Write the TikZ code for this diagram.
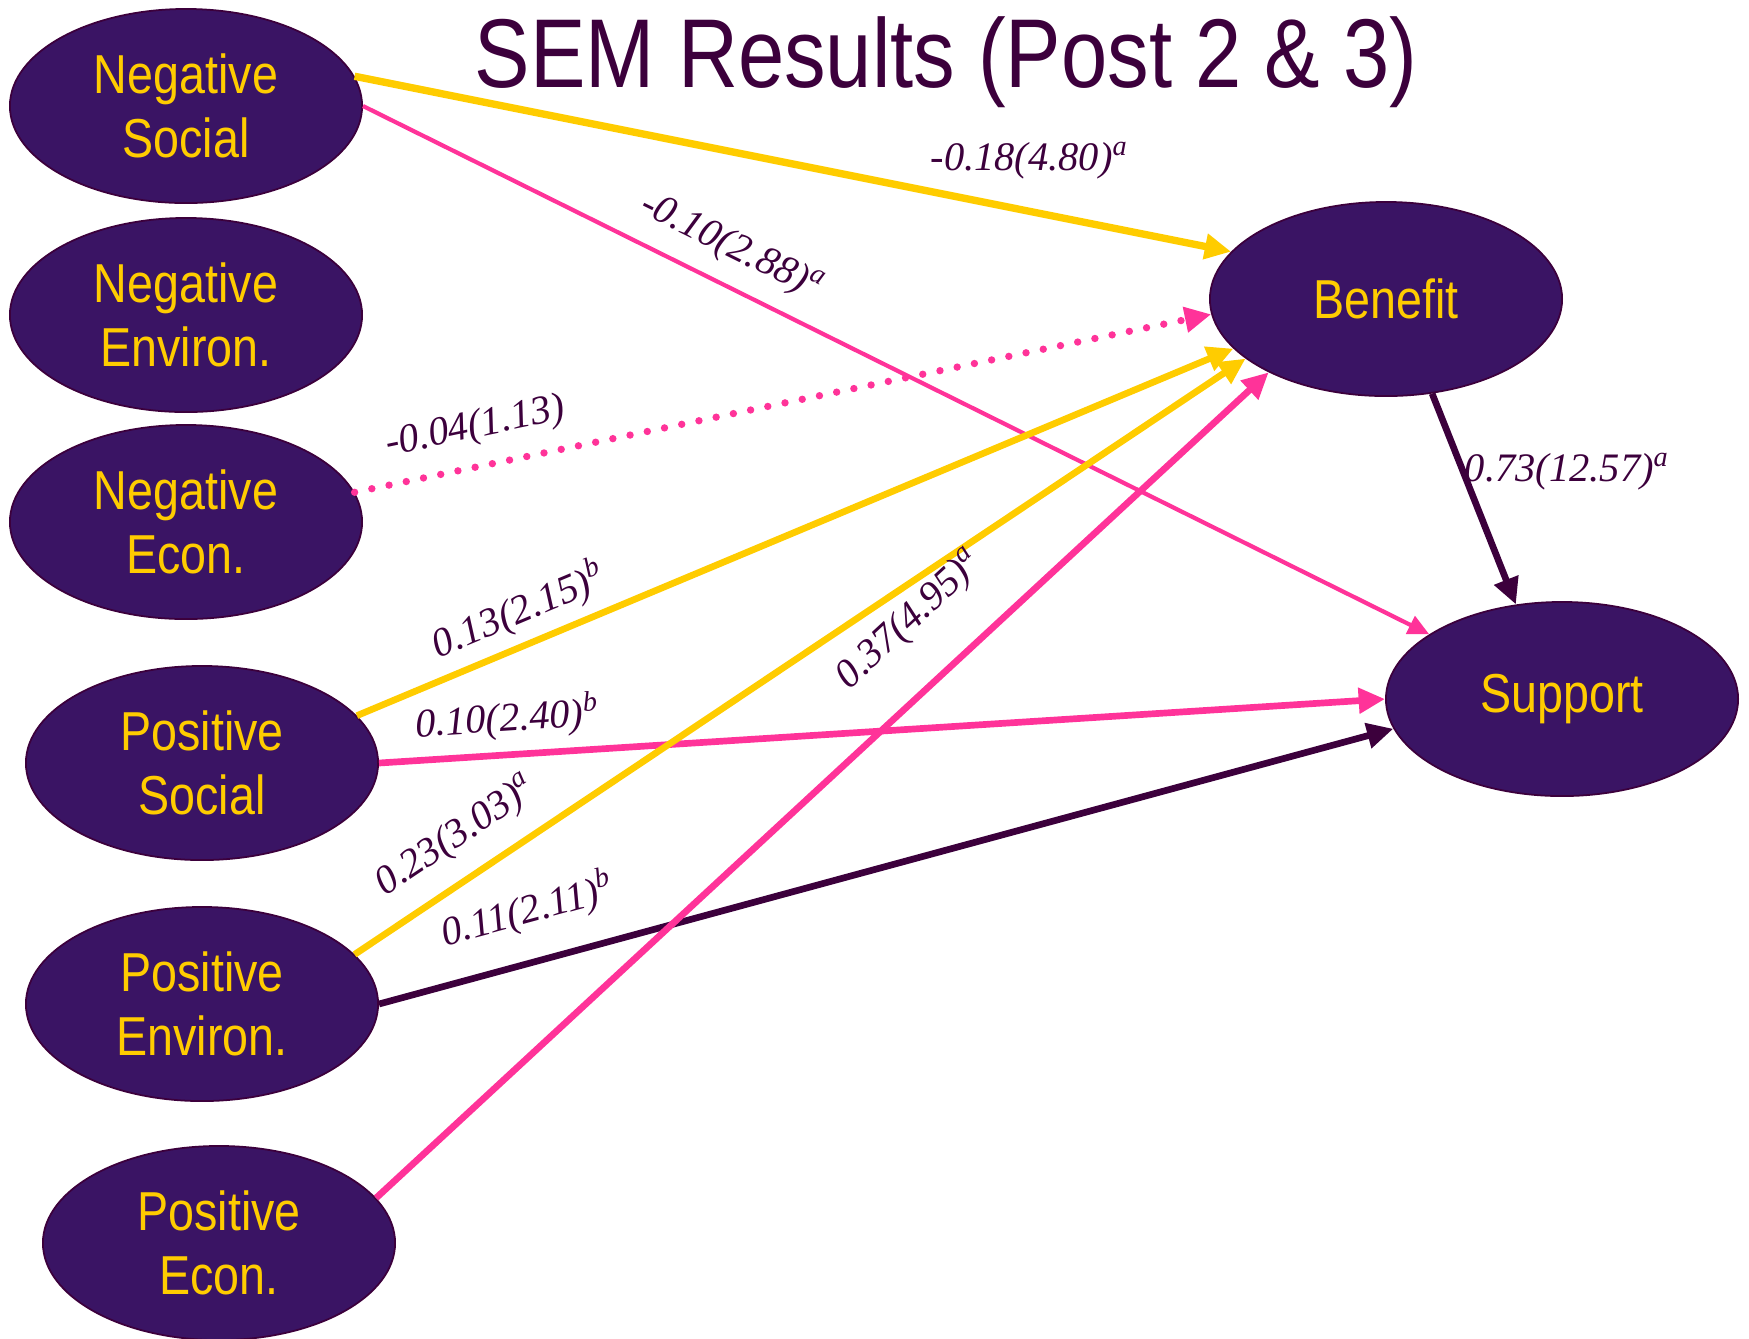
\documentclass[tikz,border=0pt]{standalone}
\usepackage{fontspec}
\setmainfont[FakeStretch=0.85]{Liberation Sans}
\newfontfamily\coeffont{Liberation Serif}
\usetikzlibrary{shapes.geometric,arrows.meta}
\definecolor{ovalfill}{RGB}{58,20,100}
\definecolor{plum}{RGB}{60,0,60}
\definecolor{gold}{RGB}{255,204,0}
\definecolor{hotpink}{RGB}{255,51,153}
\newcommand{\sig}[1]{\textsuperscript{#1}}

\begin{document}
\begin{tikzpicture}[x=0.01cm, y=-0.01cm, >={Triangle[length=7.5pt,width=7pt]},
    construct/.style={ellipse, draw=plum, line width=.5pt, fill=ovalfill, text=gold,
      minimum width=3.52cm, minimum height=1.94cm, inner sep=0pt, align=center,
      font=\fontsize{15.6}{18.2}\selectfont},
    coef/.style={font=\coeffont\itshape\fontsize{11.5}{13}\selectfont, text=plum, inner sep=1pt},
    effect/.style={->, line width=1.9pt}]
    \useasboundingbox (0,0) rectangle (1749,1338);
    \node[anchor=base, text=plum, font=\fontsize{27.8}{30}\selectfont] (title) at (946,87) {SEM Results (Post 2 \& 3)};
    \node[construct] (negsoc) at (186,106) {Negative\\Social};
    \node[construct] (negenv) at (186,315) {Negative\\Environ.};
    \node[construct] (negecon) at (186,522) {Negative\\Econ.};
    \node[construct] (possoc) at (202,763) {Positive\\Social};
    \node[construct] (posenv) at (202,1004) {Positive\\Environ.};
    \node[construct] (posecon) at (219,1243) {Positive\\Econ.};
    \node[construct] (benefit) at (1386,299) {Benefit};
    \node[construct] (support) at (1562,699) {Support};
    \draw[effect, gold, line width=2.1pt] (negsoc.10) -- node[coef, pos=.77, above=2.5mm] {-0.18(4.80)\sig{a}} (benefit.163);
    \draw[effect, hotpink, line width=1.2pt, >={Triangle[length=6pt,width=5.5pt]}] (negsoc.east) -- node[coef, sloped, pos=.33, above=1.3mm] {-0.10(2.88)\sig{a}} (support.154);
    \draw[effect, hotpink, line width=2.1pt, line cap=round, dash pattern=on 0pt off 5pt] (negecon.10) -- node[coef, sloped, pos=.15, above=1.3mm] {-0.04(1.13)} (benefit.185);
    \draw[effect, gold] (possoc.17) -- node[coef, sloped, pos=.2, above=.6mm] {0.13(2.15)\sig{b}} (benefit.198);
    \draw[effect, hotpink] (possoc.east) -- node[coef, sloped, pos=.13, above=.8mm] {0.10(2.40)\sig{b}} (support.west);
    \draw[effect, gold] (posenv.18) -- node[coef, sloped, pos=.14, above=1.6mm] {0.23(3.03)\sig{a}} (benefit.203);
    \draw[effect, plum] (posenv.east) -- node[coef, sloped, pos=.16, above=2.3mm] {0.11(2.11)\sig{b}} (support.190);
    \draw[effect, hotpink] (posecon.16) -- node[coef, sloped, pos=.645, above=3.6mm] {0.37(4.95)\sig{a}} (benefit.212);
    \draw[effect, plum] (benefit.296) -- node[coef, pos=.37, right=-.5mm] {0.73(12.57)\sig{a}} (support.116);
\end{tikzpicture}
\end{document}
